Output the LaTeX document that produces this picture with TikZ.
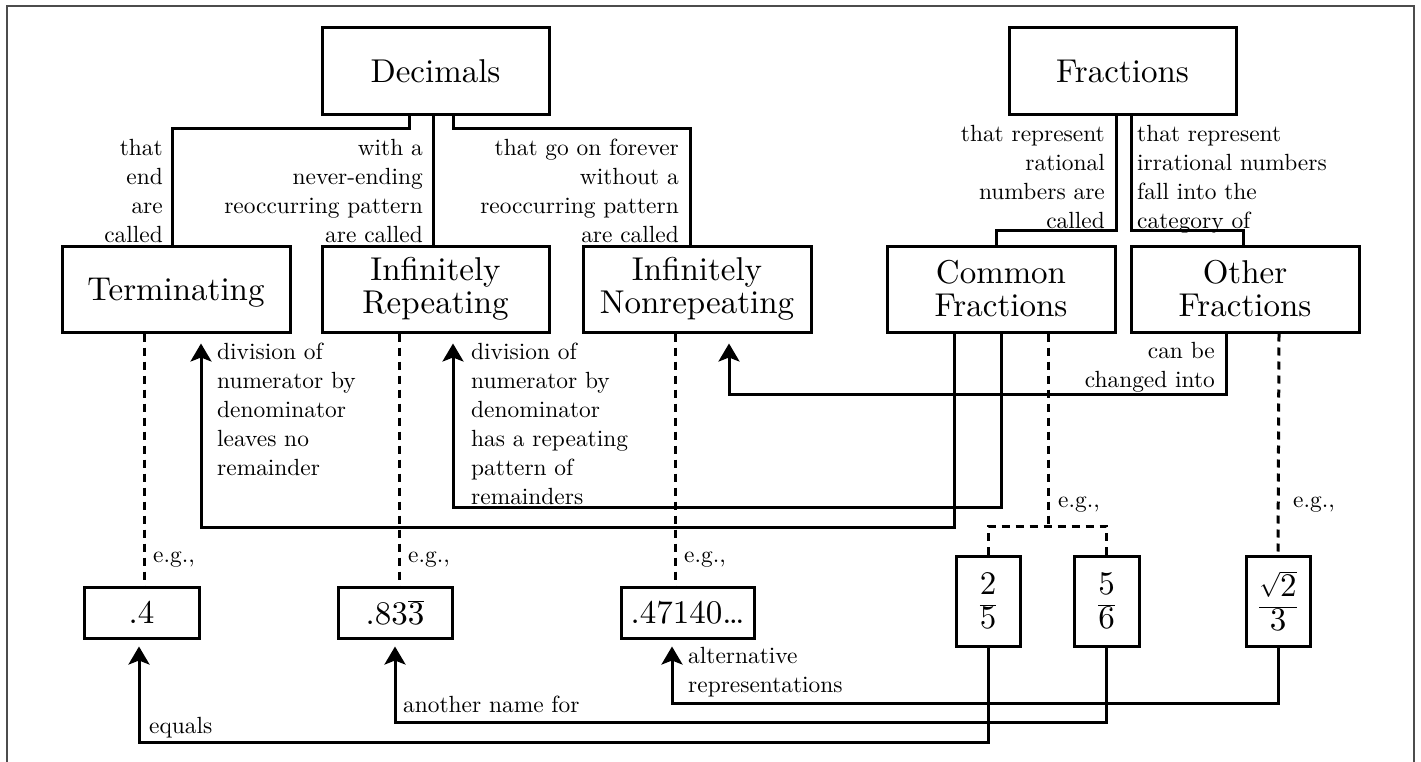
\documentclass[tikz,border=0pt]{standalone}
\usepackage{fontspec}
\setmainfont{lmroman10-regular}[Extension=.otf]
\usetikzlibrary{arrows.meta}
\newcommand\BigFnt{\fontsize{33}{33}\selectfont}
\newcommand\SmallFnt{\fontsize{23.4}{29}\selectfont}
\tikzset{
  box/.style={draw, line width=3pt, inner sep=0pt, align=center, font=\BigFnt},
  lbl/.style={inner sep=0pt, font=\SmallFnt},
  conn/.style={line width=3pt},
  arr/.style={line width=3pt, -{Stealth[length=18pt,width=21pt,inset=4pt,fill=black]}},
  dsh/.style={line width=3pt, dash pattern=on 8pt off 6pt},
  frame/.style={black!70, line width=1.5pt}
}
\begin{document}
\begin{tikzpicture}[x=1pt,y=-1pt]
\useasboundingbox (0,0) rectangle (1421,762);
\draw[frame] (7,762) -- (7,6) -- (1414,6) -- (1414,762);

% boxes
\node[box, minimum width=227pt, minimum height=87pt] (dec) at (435.5,71.5) {Decimals};
\node[box, minimum width=227pt, minimum height=87pt] (frac) at (1122.5,71.5) {Fractions};
\node[box, minimum width=228pt, minimum height=86pt, text depth=0pt] (term) at (176,289) {Terminating};
\node[box, minimum width=227pt, minimum height=86pt] (irep) at (435.5,289) {Infinitely\\Repeating};
\node[box, minimum width=228pt, minimum height=86pt] (inrep) at (697,289) {Infinitely\\Nonrepeating};
\node[box, minimum width=228pt, minimum height=86pt] (comm) at (1001,289) {Common\\Fractions};
\node[box, minimum width=228pt, minimum height=86pt] (other) at (1245,289) {Other\\Fractions};
\node[box, minimum width=115pt, minimum height=51pt] (d4) at (141.5,612.5) {.4};
\node[box, minimum width=114pt, minimum height=51pt] (d833) at (395,612.5) {.83$\overline{\hbox{3}}$};
\node[box, minimum width=133pt, minimum height=51pt] (d471) at (687.5,612.5) {.47140\ldots};
\node[box, minimum width=64pt, minimum height=90pt] (f25) at (988,601) {$\displaystyle\frac{\hbox{2}}{\hbox{5}}$};
\node[box, minimum width=65pt, minimum height=90pt] (f56) at (1106.5,601) {$\displaystyle\frac{\hbox{5}}{\hbox{6}}$};
\node[box, minimum width=64pt, minimum height=90pt] (fr2) at (1278,601) {$\displaystyle\frac{\sqrt{\hbox{2}}}{\hbox{3}}$};

% labels
\node[lbl, anchor=north east, align=right] (l1) at (163,139) {that\\end\\are\\called};
\node[lbl, anchor=north east, align=right] (l2) at (423,139) {with a\\never-ending\\reoccurring pattern\\are called};
\node[lbl, anchor=north east, align=right] (l3) at (679,139) {that go on forever\\without a\\reoccurring pattern\\are called};
\node[lbl, anchor=north east, align=right] (l4) at (1105,125) {that represent\\rational\\numbers are\\called};
\node[lbl, anchor=north west, align=left] (l5) at (1137,125) {that represent\\irrational numbers\\fall into the\\category of};
\node[lbl, anchor=north west, align=left] (l6) at (217,343) {division of\\numerator by\\denominator\\leaves no\\remainder};
\node[lbl, anchor=north west, align=left] (l7) at (471,343) {division of\\numerator by\\denominator\\has a repeating\\pattern of\\remainders};
\node[lbl, anchor=north east, align=right] (l8) at (1215,342) {can be\\changed into};
\node[lbl, anchor=base west] (e1) at (153,562) {e.g.,};
\node[lbl, anchor=base west] (e2) at (408,562) {e.g.,};
\node[lbl, anchor=base west] (e3) at (684,562) {e.g.,};
\node[lbl, anchor=base west] (e4) at (1058,507) {e.g.,};
\node[lbl, anchor=base west] (e5) at (1293,507) {e.g.,};
\node[lbl, anchor=north west, align=left] (l9) at (688,647) {alternative\\representations};
\node[lbl, anchor=base west] (l10) at (403,712) {another name for};
\node[lbl, anchor=base west] (l11) at (149,733) {equals};

% tree connectors
\draw[conn] ([xshift=-26.5pt]dec.south) |- (172,129) -- ([xshift=-4pt]term.north);
\draw[conn] ([xshift=-2.5pt]dec.south) -- ([xshift=-2.5pt]irep.north);
\draw[conn] ([xshift=17.5pt]dec.south) |- (690,129) -- ([xshift=-7pt]inrep.north);
\draw[conn] ([xshift=-6.5pt]frac.south) |- (996,230) -- ([xshift=-5pt]comm.north);
\draw[conn] ([xshift=8.5pt]frac.south) |- (1243,230) -- ([xshift=-2pt]other.north);

% arrows
\draw[arr] ([xshift=-47pt]comm.south) |- (201,527) -- ([xshift=25pt,yshift=-10pt]term.south);
\draw[arr] (comm.south) |- (453,507) -- ([xshift=17.5pt,yshift=-10pt]irep.south);
\draw[arr] ([xshift=-19pt]other.south) |- (729,394) -- ([xshift=32pt,yshift=-10pt]inrep.south);
\draw[arr] (f25.south) |- (139,742) -- ([xshift=-2.5pt,yshift=-7pt]d4.south);
\draw[arr] (f56.south) |- (395,722) -- ([yshift=-7pt]d833.south);
\draw[arr] (fr2.south) |- (672,703) -- ([xshift=-15.5pt,yshift=-7pt]d471.south);

% dashed examples
\draw[dsh] ([xshift=-32pt]term.south) -- ([xshift=2.5pt]d4.north);
\draw[dsh] ([xshift=-36.5pt]irep.south) -- ([xshift=4pt]d833.north);
\draw[dsh] ([xshift=-22pt]inrep.south) -- ([xshift=-12.5pt]d471.north);
\draw[dsh] ([xshift=47pt]comm.south) -- (1048,526);
\draw[dsh] (f25.north) |- (1048,526) -| (f56.north);
\draw[dsh] ([xshift=34pt]other.south) -- (fr2.north);
\end{tikzpicture}
\end{document}
